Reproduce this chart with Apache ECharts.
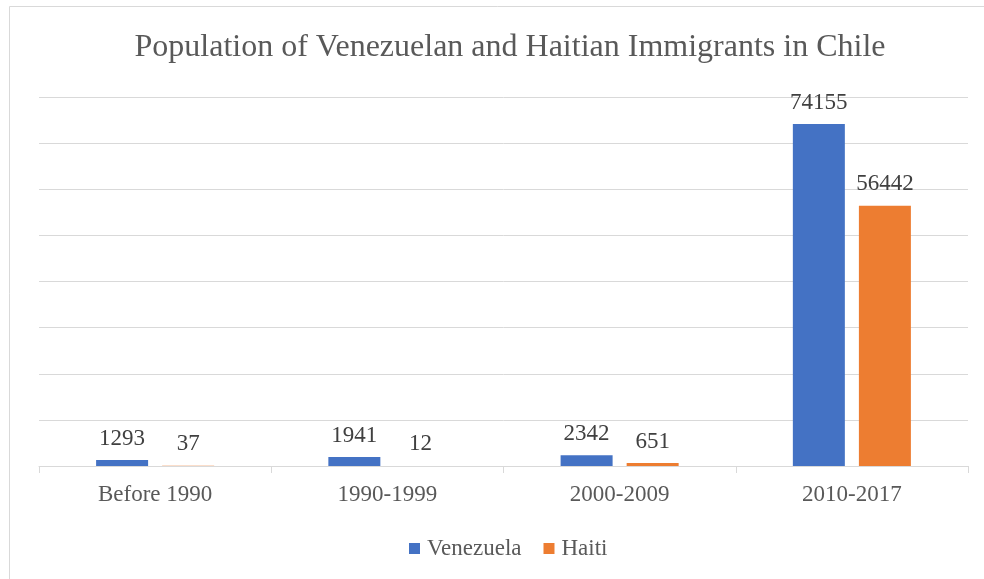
<!DOCTYPE html>
<html>
<head>
<meta charset="utf-8">
<style>
  html, body { margin: 0; padding: 0; background: #ffffff; }
  #chart { width: 984px; height: 579px; }
</style>
<script src="https://cdn.jsdelivr.net/npm/echarts@6/dist/echarts.min.js"></script>
</head>
<body>
<div id="chart"></div>
<script>
// Immigrant population by arrival period
const periods = ['Before 1990', '1990-1999', '2000-2009', '2010-2017'];
const venezuela = [1293, 1941, 2342, 74155];
const haiti = [37, 12, 651, 56442];
const seriesNames = ['Venezuela', 'Haiti'];

const serif = '"Liberation Serif", "Times New Roman", serif';

const chart = echarts.init(document.getElementById('chart'), null, { renderer: 'canvas' });

const labelStyle = {
  show: true,
  position: 'top',
  distance: 10,
  fontFamily: serif,
  fontSize: 23,
  color: '#404040'
};

chart.setOption({
  backgroundColor: '#ffffff',
  animation: false,
  graphic: [{
    type: 'rect',
    shape: { x: 9.5, y: 6.5, width: 1000, height: 600 },
    style: { fill: 'none', stroke: '#d9d9d9', lineWidth: 1 },
    silent: true
  }],
  title: {
    text: 'Population of Venezuelan and Haitian Immigrants in Chile',
    left: 505,
    textAlign: 'center',
    top: 27,
    textStyle: {
      fontFamily: serif,
      fontSize: 32,
      fontWeight: 'normal',
      color: '#595959'
    }
  },
  legend: {
    data: seriesNames,
    left: 404,
    top: 532,
    icon: 'rect',
    itemWidth: 11,
    itemHeight: 11,
    itemGap: 22,
    textStyle: {
      fontFamily: serif,
      fontSize: 23,
      color: '#595959',
      padding: [0, 0, 0, 2]
    }
  },
  grid: {
    left: 39,
    right: 16,
    top: 97,
    bottom: 113,
    containLabel: false
  },
  xAxis: {
    type: 'category',
    data: periods,
    axisLine: { show: true, lineStyle: { color: '#d9d9d9', width: 1 } },
    axisTick: { show: true, alignWithLabel: false, length: 7, lineStyle: { color: '#d9d9d9' } },
    axisLabel: {
      margin: 17,
      fontFamily: serif,
      fontSize: 23,
      color: '#595959'
    }
  },
  yAxis: {
    type: 'value',
    min: 0,
    max: 80000,
    interval: 10000,
    axisLine: { show: false },
    axisTick: { show: false },
    axisLabel: { show: false },
    splitLine: { show: true, lineStyle: { color: '#d9d9d9', width: 1 } }
  },
  series: [
    {
      name: seriesNames[0],
      type: 'bar',
      data: venezuela,
      barWidth: 52,
      barGap: '27%',
      itemStyle: { color: '#4472C4' },
      label: labelStyle
    },
    {
      name: seriesNames[1],
      type: 'bar',
      data: haiti,
      barWidth: 52,
      barGap: '27%',
      itemStyle: { color: '#ED7D31' },
      label: labelStyle
    }
  ]
});
</script>
</body>
</html>
